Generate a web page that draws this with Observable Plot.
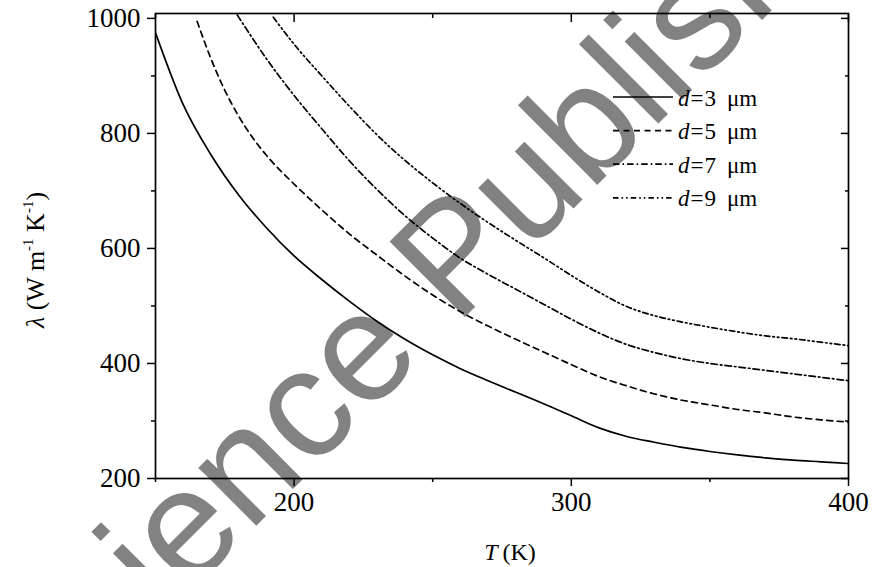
<!DOCTYPE html>
<html>
<head>
<meta charset="utf-8">
<script src="https://cdn.jsdelivr.net/npm/d3@7"></script>
<script src="https://cdn.jsdelivr.net/npm/@observablehq/plot@0.6"></script>
<style>
  html, body { margin: 0; padding: 0; background: #fff; }
  #chart { width: 873px; height: 567px; }
</style>
</head>
<body>
<div id="chart"></div>
<script>
// ---- data ----
const seriesNames = ["3", "5", "7", "9"];            // d in μm
const T_d3 = [150,160,170,180,190,200,210,220,230,240,250,260,270,280,290,300,310,320,330,340,350,360,370,380,390,400];
const L_d3 = [975,850,763,693,636,587,546,508,473,442,415,391,370,350,330,309,288,273,263,254,247,241,236,232,229,226];
const T_d5 = [165,170,175,180,185,190,200,210,220,230,240,250,260,270,280,290,300,310,320,330,340,350,360,370,380,390,400];
const L_d5 = [995,930,875,830,793,762,712,667,625,588,552,519,490,465,442,420,398,377,361,347,336,328,320,314,307,302,298];
const T_d7 = [179.5,190,200,210,220,230,240,250,260,270,280,290,300,310,320,330,340,350,360,370,380,390,400];
const L_d7 = [1006,930,866,808,752,702,657,618,583,555,529,503,477,453,433,419,408,400,394,388,382,376,370];
const T_d9 = [192.5,200,210,220,230,240,250,260,270,280,290,300,310,320,330,340,350,360,370,380,390,400];
const L_d9 = [1002,955,900,847,797,753,714,678,645,614,584,553,524,499,483,472,463,455,448,443,437,431];

const xMajorTicks = [200, 300, 400];
const xMinorTicks = [150, 250, 350];
const yMajorTicks = [200, 400, 600, 800, 1000];
const yMinorTicks = [300, 500, 700, 900];
const watermarkLeft = "Science\u00a0";
const watermarkRight = "Publishing";

// ---- build table ----
const seriesT = [T_d3, T_d5, T_d7, T_d9];
const seriesL = [L_d3, L_d5, L_d7, L_d9];
const rows = [];
seriesNames.forEach((d, i) => seriesT[i].forEach((t, j) => rows.push({d, T: t, L: seriesL[i][j]})));

// ---- styles ----
const dashes = {"3": null, "5": "6,4.5", "7": "6.5,3,1.6,3", "9": "5.5,3,1.6,3,1.6,3"};
const serif = "'Liberation Serif', 'Times New Roman', serif";

function watermark() {
  const g = d3.create("svg:g").attr("fill", "#828282")
    .attr("font-family", "'Liberation Sans', Arial, sans-serif")
    .attr("font-size", 155)
    .attr("transform", "translate(456,326) rotate(-45)");
  g.append("text").attr("text-anchor", "end").text(watermarkLeft);
  g.append("text").attr("text-anchor", "start").text(watermarkRight);
  return g.node();
}

function legend() {
  const g = d3.create("svg:g").attr("font-family", serif).attr("font-size", 23)
    .attr("fill", "black").attr("text-anchor", "start");
  seriesNames.forEach((d, i) => {
    const y = 97 + i * 33.6;
    g.append("line").attr("x1", 613).attr("x2", 673).attr("y1", y).attr("y2", y)
      .attr("stroke", "black").attr("stroke-width", 1.7)
      .attr("stroke-dasharray", dashes[d]);
    const t = g.append("text").attr("x", 678).attr("y", y + 8.5);
    t.append("tspan").attr("font-style", "italic").text("d");
    t.append("tspan").attr("dx", 1).text("=");
    t.append("tspan").attr("dx", 1).text(d);
    t.append("tspan").attr("x", 727).text("\u03bcm");
  });
  return g.node();
}

const lineMarks = seriesNames.map(d =>
  Plot.line(rows.filter(r => r.d === d), {
    x: "T", y: "L", stroke: "black", strokeWidth: 1.7,
    strokeDasharray: dashes[d], curve: "monotone-x", clip: true
  })
);

const blank = () => "";
const plain = d => String(d);
const chart = Plot.plot({
  width: 873,
  height: 567,
  marginLeft: 155,
  marginRight: 25,
  marginTop: 13,
  marginBottom: 89,
  style: {fontFamily: serif, fontSize: "27px", color: "black", background: "white"},
  x: {domain: [150, 400], label: null},
  y: {domain: [200, 1008.5], label: null},
  marks: [
    watermark,
    ...lineMarks,
    Plot.axisX(xMajorTicks, {anchor: "bottom", tickSize: 8, tickPadding: 5, tickFormat: plain, strokeWidth: 1.5, label: null, fontSize: 27}),
    Plot.axisX(xMinorTicks, {anchor: "bottom", tickSize: 4, tickFormat: blank, strokeWidth: 1.5, label: null}),
    Plot.axisX(xMajorTicks, {anchor: "top", tickSize: -8, tickFormat: blank, strokeWidth: 1.5, label: null}),
    Plot.axisX(xMinorTicks, {anchor: "top", tickSize: -4, tickFormat: blank, strokeWidth: 1.5, label: null}),
    Plot.axisY(yMajorTicks, {anchor: "left", tickSize: 8, tickPadding: 7, tickFormat: plain, strokeWidth: 1.5, label: null, fontSize: 27}),
    Plot.axisY(yMinorTicks, {anchor: "left", tickSize: 4, tickFormat: blank, strokeWidth: 1.5, label: null}),
    Plot.axisY(yMajorTicks, {anchor: "right", tickSize: -8, tickFormat: blank, strokeWidth: 1.5, label: null}),
    Plot.axisY(yMinorTicks, {anchor: "right", tickSize: -4, tickFormat: blank, strokeWidth: 1.5, label: null}),
    Plot.frame({stroke: "black", strokeWidth: 1.7}),
    legend
  ]
});

// axis titles
const svg = d3.select(chart);
const xt = svg.append("text").attr("x", 510).attr("y", 560).attr("text-anchor", "middle")
  .attr("font-family", serif).attr("font-size", 24).attr("fill", "black");
xt.append("tspan").attr("font-style", "italic").text("T");
xt.append("tspan").text("\u2009(K)");

const yt = svg.append("text").attr("transform", "translate(44,260) rotate(-90)").attr("text-anchor", "middle")
  .attr("font-family", serif).attr("font-size", 26).attr("fill", "black");
yt.append("tspan").attr("font-style", "italic").text("\u03bb");
yt.append("tspan").text(" (W m");
yt.append("tspan").attr("font-size", 15).attr("dy", -11).text("-1");
yt.append("tspan").attr("dy", 11).text(" K");
yt.append("tspan").attr("font-size", 15).attr("dy", -11).text("-1");
yt.append("tspan").attr("dy", 11).text(")");

document.getElementById("chart").appendChild(chart);
</script>
</body>
</html>
